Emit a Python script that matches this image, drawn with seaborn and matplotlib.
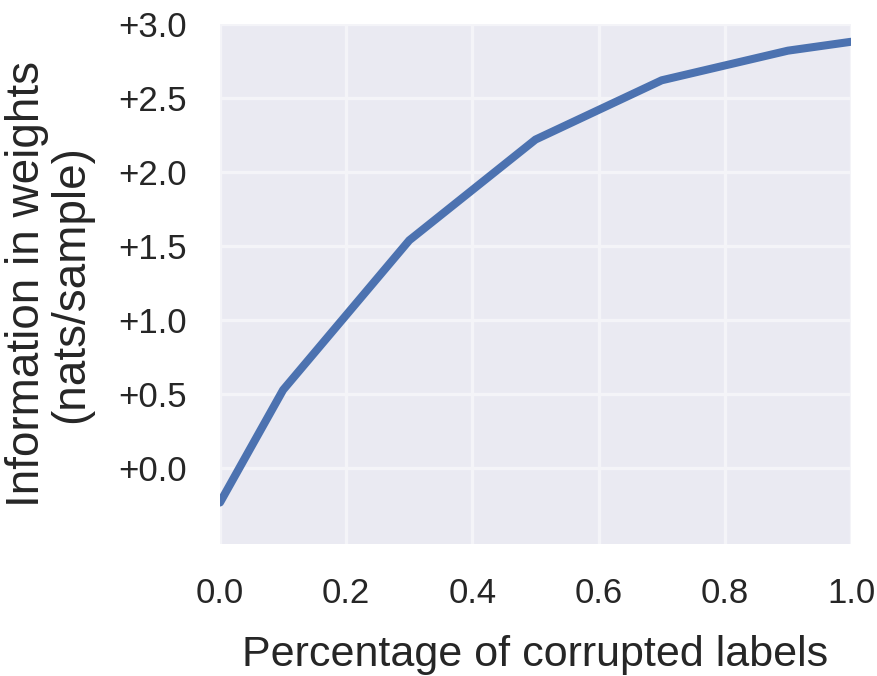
import matplotlib
matplotlib.use("Agg")
import matplotlib.pyplot as plt
import seaborn as sns
import pandas as pd
from matplotlib.ticker import FuncFormatter, MultipleLocator, FixedLocator

corruption = [0.0, 0.1, 0.3, 0.5, 0.7, 0.9, 1.0]
info_weights = [-0.23, 0.53, 1.54, 2.22, 2.62, 2.82, 2.88]
y_ticks = [0.0, 0.5, 1.0, 1.5, 2.0, 2.5, 3.0]

sns.set_theme(style="darkgrid")
plt.rcParams['font.family'] = ['Liberation Sans', 'DejaVu Sans']

df = pd.DataFrame({"x": corruption, "y": info_weights})

fig = plt.figure(figsize=(8.78, 6.76), dpi=100)
ax = fig.add_axes([220/878, 1-544/676, (851-220)/878, (544-24)/676])
sns.lineplot(data=df, x="x", y="y", ax=ax, color="#4C72B0", linewidth=5.8)

ax.set_xlim(0, 1.0)
ax.set_ylim(-0.51, 3.0)
ax.xaxis.set_major_locator(MultipleLocator(0.2))
ax.yaxis.set_major_locator(FixedLocator(y_ticks))
ax.yaxis.set_major_formatter(FuncFormatter(lambda v, p: f"{v:+.1f}" if abs(v) > 1e-9 else "+0.0"))
ax.xaxis.set_major_formatter(FuncFormatter(lambda v, p: f"{v:.1f}"))
ax.tick_params(axis='both', labelsize=25, pad=24, length=0)
ax.grid(True, color="#f4f4f8", linewidth=2.4)
ax.set_xlabel("Percentage of corrupted labels", fontsize=31, labelpad=18)
ax.set_ylabel("Information in weights\n(nats/sample)", fontsize=33, labelpad=18, linespacing=1.0)
for sp in ax.spines.values():
    sp.set_visible(False)

fig.savefig("out.png", dpi=100)
